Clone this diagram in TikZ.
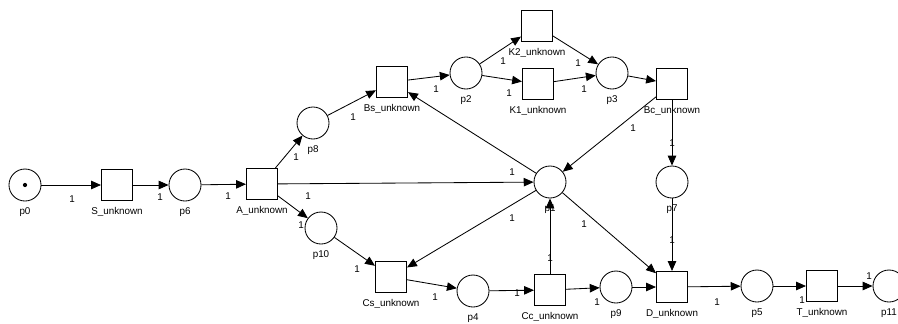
\documentclass[tikz,border=0pt]{standalone}
\usepackage{fontspec}
\setmainfont{Liberation Sans}
\usetikzlibrary{arrows.meta, positioning}

\tikzset{
  place/.style={circle, draw, line width=0.6pt, minimum size=0.8cm, inner sep=0pt},
  trans/.style={rectangle, draw, line width=0.6pt, minimum size=0.78cm, inner sep=0pt},
  flow/.style={-{Triangle[length=7pt,width=6pt]}, line width=0.6pt},
  wt/.style={font=\fontsize{7}{8}\selectfont, inner sep=0pt},
  every label/.style={font=\fontsize{7}{8}\selectfont, inner sep=0pt, label distance=4pt},
}

\begin{document}
\begin{tikzpicture}[x=0.025cm, y=-0.025cm]
        \useasboundingbox (0,0) rectangle (898,323);
        \clip (0,0) rectangle (898,323);
        % start of the net
        \node[place, label=below:p0] (p0) at (25,185) {};
        \fill (p0.center) circle (1.5pt);
        \node[trans, label=below:S\_unknown] (S) at (117,185) {};
        \node[place, label=below:p6] (p6) at (185,185) {};
        \node[trans, label=below:A\_unknown] (A) at (262,184) {};
        % upper branch
        \node[place, label=below:p8] (p8) at (313,123) {};
        \node[trans, label=below:Bs\_unknown] (Bs) at (392,82) {};
        \node[place, label=below:p2] (p2) at (466,73) {};
        \node[trans, label=below:K2\_unknown] (K2) at (537,26) {};
        \node[trans, label=below:K1\_unknown] (K1) at (538,84) {};
        \node[place, label=below:p3] (p3) at (612,73) {};
        \node[trans, label=below:Bc\_unknown] (Bc) at (672,84) {};
        % middle
        \node[place, label=below:p1] (p1) at (550,182) {};
        \node[place, label=below:p7] (p7) at (672,182) {};
        % lower branch
        \node[place, label=below:p10] (p10) at (321,228) {};
        \node[trans, label=below:Cs\_unknown] (Cs) at (391,277) {};
        \node[place, label=below:p4] (p4) at (473,291) {};
        \node[trans, label=below:Cc\_unknown] (Cc) at (550,290) {};
        \node[place, label=below:p9] (p9) at (616,287) {};
        \node[trans, label=below:D\_unknown] (D) at (672,287) {};
        \node[place, label=below:p5] (p5) at (757,286) {};
        \node[trans, label=below:T\_unknown] (T) at (822,286) {};
        \node[place, label=below:p11] (p11) at (889,286) {};
        % arcs
        \draw[flow] (p0) -- (S);
        \draw[flow] (S) -- (p6);
        \draw[flow] (p6) -- (A);
        \draw[flow] (A) -- (p8);
        \draw[flow] (A) -- (p1);
        \draw[flow] (A) -- (p10);
        \draw[flow] (p8) -- (Bs);
        \draw[flow] (Bs) -- (p2);
        \draw[flow] (p2) -- (K2);
        \draw[flow] (p2) -- (K1);
        \draw[flow] (K2) -- (p3);
        \draw[flow] (K1) -- (p3);
        \draw[flow] (p3) -- (Bc);
        \draw[flow] (Bc) -- (p1);
        \draw[flow] (Bc) -- (p7);
        \draw[flow] (p1) -- (Bs);
        \draw[flow] (p1) -- (Cs);
        \draw[flow] (p1) -- (D);
        \draw[flow] (Cc) -- (p1);
        \draw[flow] (p10) -- (Cs);
        \draw[flow] (Cs) -- (p4);
        \draw[flow] (p4) -- (Cc);
        \draw[flow] (Cc) -- (p9);
        \draw[flow] (p9) -- (D);
        \draw[flow] (p7) -- (D);
        \draw[flow] (D) -- (p5);
        \draw[flow] (p5) -- (T);
        \draw[flow] (T) -- (p11);
        % arc weights
        \foreach \x/\y [count=\i] in {72/199, 160/197, 228/196, 296/157, 308/196,
            512/172, 301/225, 353/117, 436/89, 503/61, 509/93, 578/63, 584/89,
            633/128, 672/143, 512/218, 584/224, 550/258, 357/269, 435/297,
            517/293, 597/302, 672/240, 717/302, 802/300, 869/276}
          \node[wt] (w\i) at (\x,\y) {1};
      \end{tikzpicture}
\end{document}
